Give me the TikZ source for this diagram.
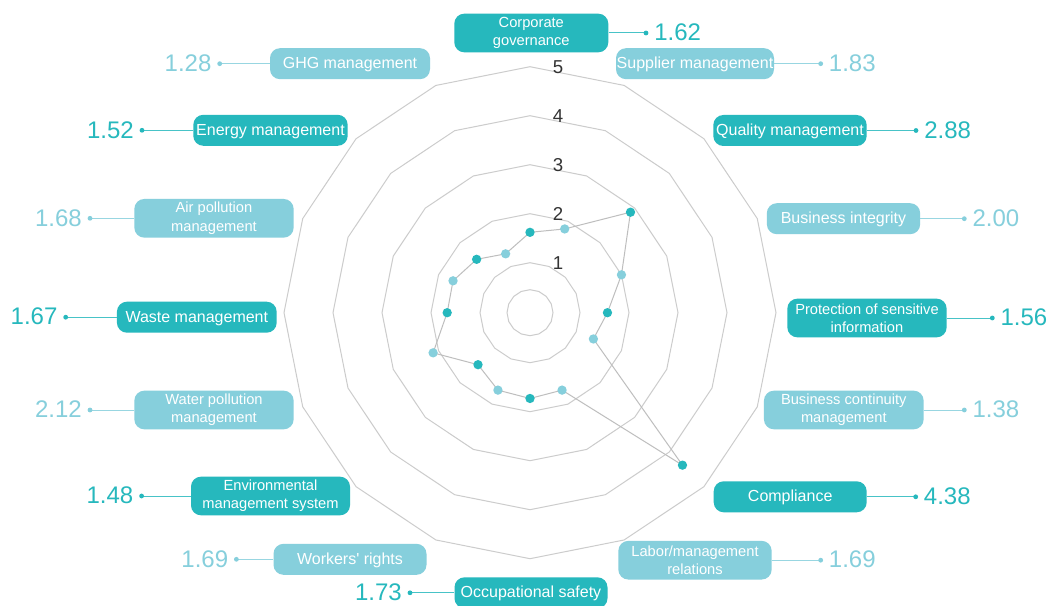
\documentclass[tikz,border=0pt]{standalone}
\usepackage{fontspec}
\setmainfont{Liberation Sans}
\definecolor{dk}{RGB}{38,184,189}
\definecolor{lt}{RGB}{134,207,220}
\definecolor{gridc}{RGB}{204,204,204}
\definecolor{polyc}{RGB}{190,190,190}
\definecolor{tickc}{RGB}{51,51,51}
\begin{document}
\begin{tikzpicture}[x=0.75pt,y=-0.75pt,
  lbox/.style={fill=#1, rounded corners=7.5pt, text=white, inner sep=0pt, align=center},
  one/.style={minimum height=23.25pt, text height=10.1pt, text depth=2.5pt, font=\fontsize{12}{14}\selectfont},
  two/.style={minimum height=29pt, font=\fontsize{11}{13.8}\selectfont},
  conn/.style={draw=#1!85, line width=0.75pt},
  enddot/.style={fill=#1},
  num/.style={text=#1, inner sep=0pt, font=\fontsize{18}{20}\selectfont},
  gridline/.style={draw=gridc, line width=0.75pt},
  polyline/.style={draw=polyc, line width=0.75pt},
  ticklbl/.style={text=tickc, inner sep=0pt, font=\fontsize{14}{16}\selectfont}
]
\fill[white] (0,0) rectangle (1053,606);
\useasboundingbox (0,0) rectangle (1053,606);

% grid rings
\foreach \r in {23,50,99,148,197,246}{
  \draw[gridline] plot[samples at={0,22.5,...,337.5}] ({530+\r*sin(\x)},{312.7-\r*cos(\x)}) -- cycle;
}
% level labels
\foreach \v in {1,...,5}{
  \pgfmathsetmacro\rr{49*\v+1}
  \node[ticklbl] (lev\v) at (558,{312.7-\rr}) {\v};
}

% data points
\foreach \v [count=\i from 0] in {1.62,1.83,2.88,2.00,1.56,1.38,4.38,1.69,1.73,1.69,1.48,2.12,1.67,1.68,1.52,1.28}{
  \pgfmathsetmacro\rr{49*\v+1}
  \coordinate (p\i) at ({530+\rr*sin(22.5*\i)},{312.7-\rr*cos(22.5*\i)});
}
\draw[polyline] (p0) \foreach \i in {1,...,15}{ -- (p\i)} -- cycle;
\foreach \i in {0,2,...,14}{ \fill[dk] (p\i) circle (3.5pt); }
\foreach \i in {1,3,...,15}{ \fill[lt] (p\i) circle (3.5pt); }

% ---- labels, right side ----
\node[lbox=dk, two, minimum width=115.5pt] (cg) at (531.3,33) {Corporate\\governance};
\coordinate (cgd) at (646,33);
\node[lbox=lt, one, minimum width=118.5pt] (sup) at (695,63.7) {Supplier management};
\coordinate (supd) at (820.7,63.7);
\node[lbox=dk, one, minimum width=115pt] (qual) at (790,130.5) {Quality management};
\coordinate (quald) at (916,130.5);
\node[lbox=lt, one, minimum width=115pt] (integ) at (843.5,218.7) {Business integrity};
\coordinate (integd) at (964.3,218.7);
\node[lbox=dk, two, minimum width=119.5pt] (prot) at (867,318) {Protection of sensitive\\information};
\coordinate (protd) at (992.3,318);
\node[lbox=lt, two, minimum width=119.8pt] (cont) at (843.8,410) {Business continuity\\management};
\coordinate (contd) at (964.3,410);
\node[lbox=dk, one, minimum width=114.75pt] (comp) at (790.2,496.8) {Compliance};
\coordinate (compd) at (915.7,496.8);
\node[lbox=lt, two, minimum width=115pt] (labor) at (695,560.2) {Labor/management\\relations};
\coordinate (labord) at (820.7,560.2);

% ---- labels, left side ----
\node[lbox=dk, one, minimum width=114.75pt] (occ) at (531,592.8) {Occupational safety};
\coordinate (occd) at (410,592.8);
\node[lbox=lt, one, minimum width=114.75pt] (work) at (350,559.3) {Workers\textquotesingle\ rights};
\coordinate (workd) at (236.4,559.3);
\node[lbox=dk, two, minimum width=119.25pt] (env) at (270.5,496) {Environmental\\management system};
\coordinate (envd) at (141.6,496);
\node[lbox=lt, two, minimum width=119.5pt] (water) at (214,410) {Water pollution\\management};
\coordinate (waterd) at (90,410);
\node[lbox=dk, one, minimum width=119.8pt] (waste) at (196.8,317.2) {Waste management};
\coordinate (wasted) at (65.7,317.2);
\node[lbox=lt, two, minimum width=119.5pt] (air) at (214,218.3) {Air pollution\\management};
\coordinate (aird) at (90,218.3);
\node[lbox=dk, one, minimum width=115.8pt] (energy) at (270.5,130.3) {Energy management};
\coordinate (energyd) at (142,130.3);
\node[lbox=lt, one, minimum width=120pt] (ghg) at (350,63.7) {GHG management};
\coordinate (ghgd) at (219.7,63.7);

% connectors and values, right
\foreach \n/\c/\val in {cg/dk/1.62, sup/lt/1.83, qual/dk/2.88, integ/lt/2.00, prot/dk/1.56, cont/lt/1.38, comp/dk/4.38, labor/lt/1.69}{
  \draw[conn=\c] (\n.east) -- (\n d);
  \fill[enddot=\c] (\n d) circle (1.8pt);
  \node[num=\c, anchor=west] (\n v) at ([xshift=6pt,yshift=0.4pt]\n d) {\val};
}
% connectors and values, left
\foreach \n/\c/\val in {occ/dk/1.73, work/lt/1.69, env/dk/1.48, water/lt/2.12, waste/dk/1.67, air/lt/1.68, energy/dk/1.52, ghg/lt/1.28}{
  \draw[conn=\c] (\n.west) -- (\n d);
  \fill[enddot=\c] (\n d) circle (1.8pt);
  \node[num=\c, anchor=east] (\n v) at ([xshift=-6pt,yshift=0.4pt]\n d) {\val};
}
\end{tikzpicture}
\end{document}
